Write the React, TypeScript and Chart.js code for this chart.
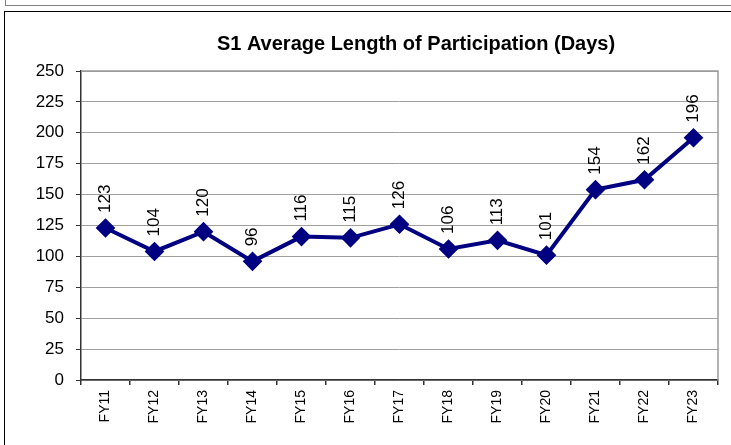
import React, { useEffect, useRef } from "react";
import { Chart, registerables } from "chart.js";

Chart.register(...registerables);

const categories = ["FY11", "FY12", "FY13", "FY14", "FY15", "FY16", "FY17", "FY18", "FY19", "FY20", "FY21", "FY22", "FY23"];
const values = [123, 104, 120, 96, 116, 115, 126, 106, 113, 101, 154, 162, 196];
const titleText = "S1 Average Length of Participation (Days)";

const FONT = "'Liberation Sans', Arial, sans-serif";

const dataLabelPlugin = {
  id: "rotLabels",
  afterDatasetsDraw(chart: any) {
    const ctx = chart.ctx;
    const meta = chart.getDatasetMeta(0);
    ctx.save();
    ctx.fillStyle = "#000";
    ctx.font = `17px ${FONT}`;
    meta.data.forEach((pt: any, i: number) => {
      ctx.save();
      ctx.translate(pt.x, pt.y - 15);
      ctx.rotate(-Math.PI / 2);
      ctx.textAlign = "left";
      ctx.textBaseline = "middle";
      ctx.fillText(String(values[i]), 0, 0);
      ctx.restore();
    });
    ctx.restore();
  },
};

const borderPlugin = {
  id: "plotBorder",
  beforeDatasetsDraw(chart: any) {
    const { ctx, chartArea } = chart;
    ctx.save();
    ctx.strokeStyle = "#9a9a9a";
    ctx.lineWidth = 1.5;
    ctx.beginPath();
    ctx.moveTo(chartArea.left, chartArea.top);
    ctx.lineTo(chartArea.right, chartArea.top);
    ctx.lineTo(chartArea.right, chartArea.bottom);
    ctx.stroke();
    ctx.restore();
  },
};

const titlePlugin = {
  id: "customTitle",
  afterDraw(chart: any) {
    const ctx = chart.ctx;
    ctx.save();
    ctx.fillStyle = "#000";
    ctx.font = `bold 20px ${FONT}`;
    ctx.textAlign = "center";
    ctx.textBaseline = "middle";
    ctx.fillText(titleText, 416, 44);
    ctx.restore();
  },
};

export default function App() {
  const ref = useRef<HTMLCanvasElement>(null);
  useEffect(() => {
    if (!ref.current) return;
    const chart = new Chart(ref.current, {
      type: "line",
      data: {
        labels: categories,
        datasets: [
          {
            data: values,
            borderColor: "#000080",
            backgroundColor: "#000080",
            borderWidth: 4,
            pointStyle: "rectRot",
            pointRadius: 7,
            pointHoverRadius: 7,
            tension: 0,
          },
        ],
      },
      options: {
        animation: false,
        responsive: false,
        events: [],
        layout: { padding: { top: 71, left: 0, right: 13, bottom: 0 } },
        plugins: {
          legend: { display: false },
          tooltip: { enabled: false },
          title: { display: false },
        },
        scales: {
          x: {
            offset: true,
            grid: { offset: true, drawOnChartArea: false, drawTicks: true, tickLength: 5, color: "#333", lineWidth: 1.5 },
            border: { display: true, color: "#333", width: 1.5 },
            ticks: {
              autoSkip: false,
              minRotation: 90,
              maxRotation: 90,
              padding: 5,
              color: "#000",
              font: { size: 14, family: FONT },
            },
            afterFit(scale: any) {
              scale.height = 65;
            },
          },
          y: {
            min: 0,
            max: 250,
            ticks: {
              stepSize: 25,
              padding: 12,
              color: "#000",
              font: { size: 17, family: FONT },
            },
            grid: { color: "#a0a0a0", lineWidth: 1, tickLength: 5, tickColor: "#333" },
            border: { display: true, color: "#333", width: 1.5 },
            afterFit(scale: any) {
              scale.width = 81;
            },
          },
        },
      },
      plugins: [dataLabelPlugin, borderPlugin, titlePlugin],
    });
    return () => chart.destroy();
  }, []);

  return (
    <div style={{ position: "absolute", left: 0, top: 0, width: 731, height: 445, background: "#fff", overflow: "hidden" }}>
      <div style={{ position: "absolute", left: 5, top: -10, width: 740, height: 15, borderLeft: "1.5px solid #808080", borderBottom: "1.5px solid #808080" }} />
      <div style={{ position: "absolute", left: 4, top: 11, width: 740, height: 460, borderLeft: "1.5px solid #000", borderTop: "1.5px solid #000" }} />
      <canvas ref={ref} width={731} height={445} style={{ position: "absolute", left: 0, top: 0 }} />
    </div>
  );
}
